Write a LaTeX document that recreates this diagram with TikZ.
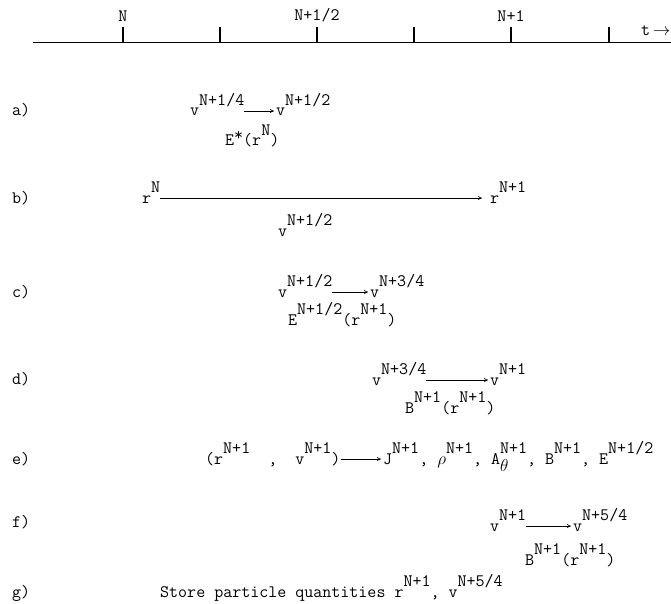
\documentclass[tikz,border=0pt]{standalone}
\usepackage{tikz}
\usetikzlibrary{arrows.meta,positioning}
\newcommand{\up}[1]{\raisebox{.62em}{#1}}
\newcommand{\dn}[1]{\raisebox{-.45em}{#1}}

\begin{document}
\begin{tikzpicture}[x=1pt,y=-1pt,
    font=\fontsize{17.5}{20}\selectfont\ttfamily,
    >={To[length=4pt,width=4pt]},
    txt/.style={inner sep=0pt,anchor=base west},
    tick/.style={line width=1.2pt},
    flow/.style={->,line width=.6pt,shorten >=2pt}]
  \useasboundingbox (0,0) rectangle (671,604);

  % time axis
  \draw[line width=.7pt] (33,42) coordinate (axl) -- (671,42) coordinate (axr);
  \foreach \x/\n in {123/t0,220/t1,317/t2,414/t3,511/t4,609/t5}
    \draw[tick] (\x,42) -- (\x,27) coordinate (\n);
  \node[above=5pt of t0,inner sep=0pt] (tN)  {N};
  \node[above=5pt of t2,inner sep=0pt] (tNh) {N+1/2};
  \node[above=5pt of t4,inner sep=0pt] (tN1) {N+1};
  \node[txt] (tt) at (641,36) {t\,$\rightarrow$};

  % row labels
  \node[txt] (la) at (12,116) {a)};
  \node[txt] (lb) at (12,203) {b)};
  \node[txt] (lc) at (12,297) {c)};
  \node[txt] (ld) at (12,384) {d)};
  \node[txt] (le) at (12,464) {e)};
  \node[txt] (lf) at (12,527) {f)};
  \node[txt] (lg) at (12,597) {g)};

  % a) half push with E
  \node[txt] (va1) at (190,116) {v\up{N+1/4}};
  \node[txt] (va2) at (276,116) {v\up{N+1/2}};
  \node[txt] (ea)  at (225,146) {E\raisebox{.3em}{*}(r\up{N})};
  \draw[flow] ([yshift=5pt]va1.base east) -- ([yshift=5pt]va2.base west);

  % b) move particles
  \node[txt] (rb1) at (142,203) {r\up{N}};
  \node[txt] (rb2) at (490,203) {r\up{N+1}};
  \node[txt] (vb)  at (278,236) {v\up{N+1/2}};
  \draw[flow] ([yshift=5pt]rb1.base east) -- ([yshift=5pt,xshift=-6pt]rb2.base west);

  % c) half push with E
  \node[txt] (vc1) at (278,297) {v\up{N+1/2}};
  \node[txt] (vc2) at (370,297) {v\up{N+3/4}};
  \node[txt] (ec)  at (288,325) {E\up{N+1/2}(r\up{N+1})};
  \draw[flow] ([yshift=5pt]vc1.base east) -- ([yshift=5pt]vc2.base west);

  % d) rotate with B
  \node[txt] (vd1) at (372,385) {v\up{N+3/4}};
  \node[txt] (vd2) at (490,385) {v\up{N+1}};
  \node[txt] (bd)  at (405,413) {B\up{N+1}(r\up{N+1})};
  \draw[flow] ([yshift=5pt]vd1.base east) -- ([yshift=5pt]vd2.base west);

  % e) field solve
  \node[txt] (pe) at (205,464) {(r\up{N+1}\ \ ,\ \ v\up{N+1})};
  \node[txt] (fe) at (383,464)
        {J\up{N+1}, $\rho$\up{N+1}, A\rlap{\dn{$\theta$}}\up{N+1}, B\up{N+1}, E\up{N+1/2}};
  \draw[flow] ([yshift=5pt]pe.base east) -- ([yshift=5pt]fe.base west);

  % f) rotate with B
  \node[txt] (vf1) at (490,531) {v\up{N+1}};
  \node[txt] (vf2) at (573,531) {v\up{N+5/4}};
  \node[txt] (bf)  at (525,565) {B\up{N+1}(r\up{N+1})};
  \draw[flow] ([yshift=5pt]vf1.base east) -- ([yshift=5pt]vf2.base west);

  % g) store
  \node[txt] (sg) at (160,597) {Store particle quantities r\up{N+1}, v\up{N+5/4}};
\end{tikzpicture}
\end{document}
